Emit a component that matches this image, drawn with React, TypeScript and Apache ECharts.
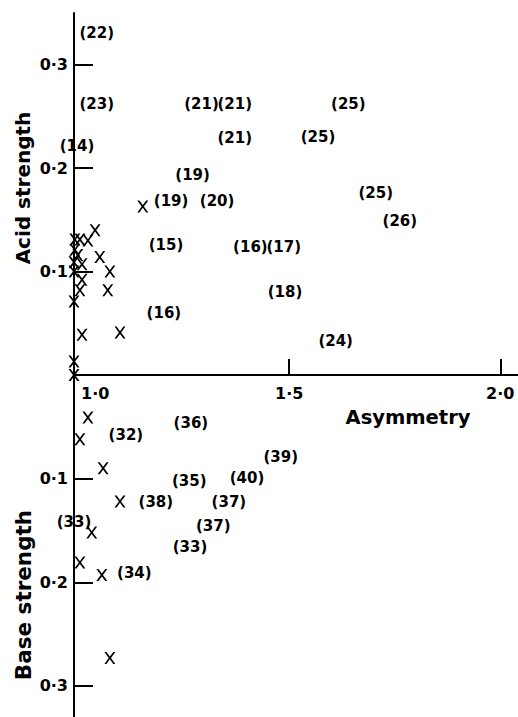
import React, { useEffect, useRef } from 'react';
import * as echarts from 'echarts';

// Plain "x" markers: [asymmetry, strength]
const acidMarkers: [number, number][] = [
  [1.153, 0.163], [1.04, 0.14], [1.023, 0.13], [1.004, 0.131], [0.992, 0.131],
  [0.992, 0.121], [0.999, 0.116], [1.051, 0.114], [0.99, 0.109], [1.009, 0.107],
  [0.99, 0.1], [1.075, 0.1], [1.009, 0.092], [1.004, 0.082], [1.07, 0.082],
  [0.99, 0.071], [1.009, 0.039], [1.099, 0.041], [0.99, 0.013], [0.99, 0.0],
];
const baseMarkers: [number, number][] = [
  [1.023, 0.041], [1.004, 0.062], [1.059, 0.09], [1.099, 0.122],
  [1.032, 0.152], [1.004, 0.181], [1.056, 0.193], [1.075, 0.273],
];

// Labelled points
const acidNames = ['(22)', '(23)', '(14)', '(21)', '(21)', '(21)', '(19)', '(19)', '(20)', '(15)', '(16)', '(17)', '(18)', '(24)', '(16)', '(25)', '(25)', '(25)', '(26)'];
const acidAsym = [1.044, 1.044, 0.997, 1.292, 1.371, 1.371, 1.271, 1.22, 1.329, 1.208, 1.408, 1.487, 1.49, 1.61, 1.203, 1.64, 1.568, 1.705, 1.762];
const acidStrength = [0.331, 0.262, 0.221, 0.262, 0.262, 0.229, 0.193, 0.168, 0.168, 0.126, 0.124, 0.124, 0.08, 0.033, 0.06, 0.262, 0.23, 0.176, 0.149];

const baseNames = ['(32)', '(36)', '(35)', '(40)', '(39)', '(38)', '(37)', '(37)', '(33)', '(33)', '(34)'];
const baseAsym = [1.113, 1.267, 1.263, 1.4, 1.48, 1.184, 1.357, 1.32, 1.265, 0.99, 1.133];
const baseStrength = [0.058, 0.046, 0.102, 0.099, 0.079, 0.123, 0.123, 0.146, 0.166, 0.142, 0.191];

const yTickValues = [0.1, 0.2, 0.3];
const yTickLabels = ['0·1', '0·2', '0·3'];
const xTickValues = [1.5, 2.0];
const xLabelValues = [1.0, 1.5, 2.0];
const xTickLabels = ['1·0', '1·5', '2·0'];

const FONT = 'DejaVu Sans';
const X_SYMBOL = 'path://M0,0L2.3,0L6,4.6L9.7,0L12,0L7.2,6L12,12L9.7,12L6,7.4L2.3,12L0,12L4.8,6Z';

export default function App() {
  const ref = useRef<HTMLDivElement>(null);
  useEffect(() => {
    if (!ref.current) return;
    const chart = echarts.init(ref.current, undefined, { renderer: 'svg' });
    const findIdx = (arr: number[], v: number) => arr.findIndex((a) => Math.abs(a - v) < 1e-6);
    const axisLine = { show: true, onZero: false, lineStyle: { color: '#000', width: 2 } };
    const tickStyle = { color: '#000', width: 2 };
    const labelFont = { color: '#000', fontFamily: FONT, fontWeight: 'bold', fontSize: 16 };
    const yAxisBase = (gridIndex: number, max: number, inverse: boolean) => ({
      type: 'value',
      gridIndex,
      min: 0,
      max,
      inverse,
      axisLine,
      axisTick: { show: true, inside: true, length: 19, customValues: yTickValues, lineStyle: tickStyle },
      axisLabel: {
        ...labelFont,
        customValues: yTickValues,
        margin: 6,
        formatter: (v: number) => {
          const i = findIdx(yTickValues, v);
          return i < 0 ? '' : yTickLabels[i];
        },
      },
      splitLine: { show: false },
    });
    const labelOpts = {
      show: true,
      position: 'inside',
      formatter: '{b}',
      color: '#000',
      opacity: 1,
      fontFamily: FONT,
      fontWeight: 'bold',
      fontSize: 15,
      textBorderWidth: 0,
    };
    const markerOpts = {
      type: 'scatter',
      symbol: X_SYMBOL,
      symbolSize: [11, 12],
      itemStyle: { color: '#000', opacity: 1 },
      silent: true,
      clip: false,
      z: 3,
    };
    const labelSeries = (name: string, idx: number, data: any[]) => ({
      type: 'scatter',
      name,
      xAxisIndex: idx,
      yAxisIndex: idx,
      data,
      symbolSize: 0,
      itemStyle: { color: '#000' },
      label: labelOpts,
      silent: true,
      clip: false,
      z: 4,
    });
    chart.setOption({
      animation: false,
      backgroundColor: '#fff',
      grid: [
        { left: 74, right: 0, top: 13, height: 362, containLabel: false, outerBoundsMode: 'none' },
        { left: 74, right: 0, top: 375, height: 342, containLabel: false, outerBoundsMode: 'none' },
      ],
      xAxis: [
        {
          type: 'value',
          gridIndex: 0,
          position: 'bottom',
          min: 0.99,
          max: 2.042,
          axisLine,
          axisTick: { show: true, inside: true, length: 16, customValues: xTickValues, lineStyle: tickStyle },
          axisLabel: {
            ...labelFont,
            customValues: xLabelValues,
            margin: 10,
            formatter: (v: number) => {
              const i = findIdx(xLabelValues, v);
              if (i < 0) return '';
              return i === 0 ? '{s|' + xTickLabels[i] + '}' : xTickLabels[i];
            },
            rich: { s: { ...labelFont, padding: [0, 0, 0, 34] } },
          },
          splitLine: { show: false },
        },
        { type: 'value', gridIndex: 1, min: 0.99, max: 2.042, show: false },
      ],
      yAxis: [yAxisBase(0, 0.35, false), yAxisBase(1, 0.33, true)],
      graphic: [
        { type: 'text', x: 408, y: 417, style: { text: 'Asymmetry', font: `bold 19.5px "${FONT}"`, fill: '#000', align: 'center', verticalAlign: 'middle', textAlign: 'center', textVerticalAlign: 'middle' } },
        { type: 'text', x: 23, y: 188, rotation: Math.PI / 2, style: { text: 'Acid strength', font: `bold 20px "${FONT}"`, fill: '#000', align: 'center', verticalAlign: 'middle', textAlign: 'center', textVerticalAlign: 'middle' } },
        { type: 'text', x: 23, y: 595, rotation: Math.PI / 2, style: { text: 'Base strength', font: `bold 21.5px "${FONT}"`, fill: '#000', align: 'center', verticalAlign: 'middle', textAlign: 'center', textVerticalAlign: 'middle' } },
      ],
      series: [
        { ...markerOpts, name: 'acid markers', xAxisIndex: 0, yAxisIndex: 0, data: acidMarkers },
        { ...markerOpts, name: 'base markers', xAxisIndex: 1, yAxisIndex: 1, data: baseMarkers },
        labelSeries('acid labelled', 0, acidNames.map((n, i) => ({ name: n, value: [acidAsym[i], acidStrength[i]] }))),
        labelSeries('base labelled', 1, baseNames.map((n, i) => ({ name: n, value: [baseAsym[i], baseStrength[i]] }))),
      ],
    });
    return () => chart.dispose();
  }, []);
  return <div ref={ref} style={{ position: 'fixed', left: 0, top: 0, width: 518, height: 717, background: '#fff' }} />;
}
